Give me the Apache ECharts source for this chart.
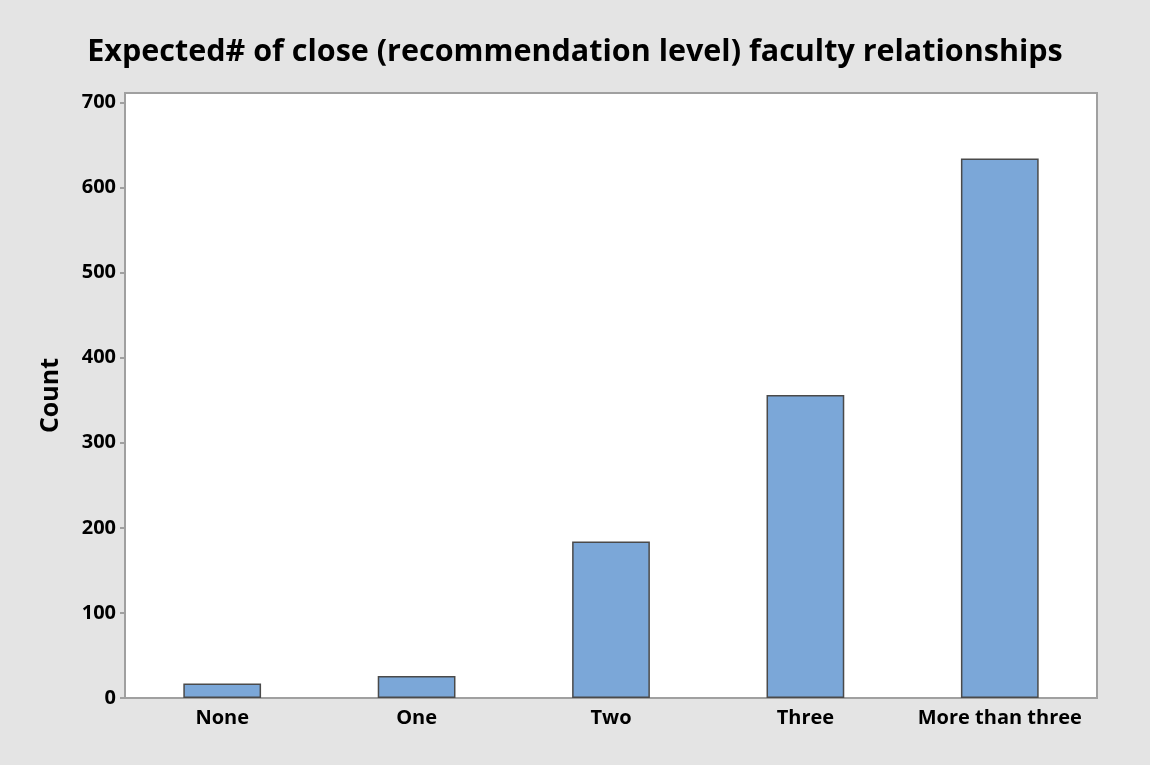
<!DOCTYPE html>
<html>
<head>
<meta charset="utf-8">
<title>Expected# of close faculty relationships</title>
<script src="https://cdn.jsdelivr.net/npm/echarts@6/dist/echarts.min.js"></script>
<style>
    html, body { margin: 0; padding: 0; background: #e4e4e4; }
    #main { width: 1150px; height: 765px; }
</style>
</head>
<body>
<div id="main"></div>
<script>
var categories = ['None', 'One', 'Two', 'Three', 'More than three'];
var counts = [17, 26, 184, 356, 634];
var yTicks = [0, 100, 200, 300, 400, 500, 600, 700];

var chart = echarts.init(document.getElementById('main'));
var font = '"Open Sans", "Noto Sans", sans-serif';

var option = {
    backgroundColor: '#e4e4e4',
    title: {
        text: 'Expected# of close (recommendation level) faculty relationships',
        left: 'center',
        top: 32,
        textStyle: { fontFamily: font, fontWeight: 'bold', fontSize: 30.5, color: '#000' }
    },
    grid: {
        left: 125, right: 53, top: 93, bottom: 67,
        show: true,
        backgroundColor: '#ffffff',
        borderColor: '#a0a0a0',
        borderWidth: 2
    },
    xAxis: {
        type: 'category',
        data: categories,
        axisLine: { lineStyle: { color: '#a0a0a0', width: 2 } },
        axisTick: { alignWithLabel: true, interval: 0, length: 5, lineStyle: { color: '#a0a0a0', width: 2 } },
        axisLabel: { interval: 0, hideOverlap: false, margin: 10, fontFamily: font, fontWeight: 'bold', fontSize: 20, color: '#000' }
    },
    yAxis: {
        type: 'value',
        min: 0,
        max: 711,
        name: 'Count',
        nameLocation: 'middle',
        nameGap: 62,
        nameTextStyle: { fontFamily: font, fontWeight: 'bold', fontSize: 25, color: '#000' },
        splitLine: { show: false },
        axisLine: { show: true, lineStyle: { color: '#a0a0a0', width: 2 } },
        axisTick: { show: true, length: 5, customValues: yTicks, lineStyle: { color: '#a0a0a0', width: 2 } },
        axisLabel: { margin: 9, customValues: yTicks, fontFamily: font, fontWeight: 'bold', fontSize: 20, color: '#000' }
    },
    series: [{
        type: 'bar',
        data: counts,
        barWidth: '40%',
        itemStyle: { color: '#7ba7d8', borderColor: '#4a4a4a', borderWidth: 1.5 }
    }]
};

chart.setOption(option);
</script>
</body>
</html>
